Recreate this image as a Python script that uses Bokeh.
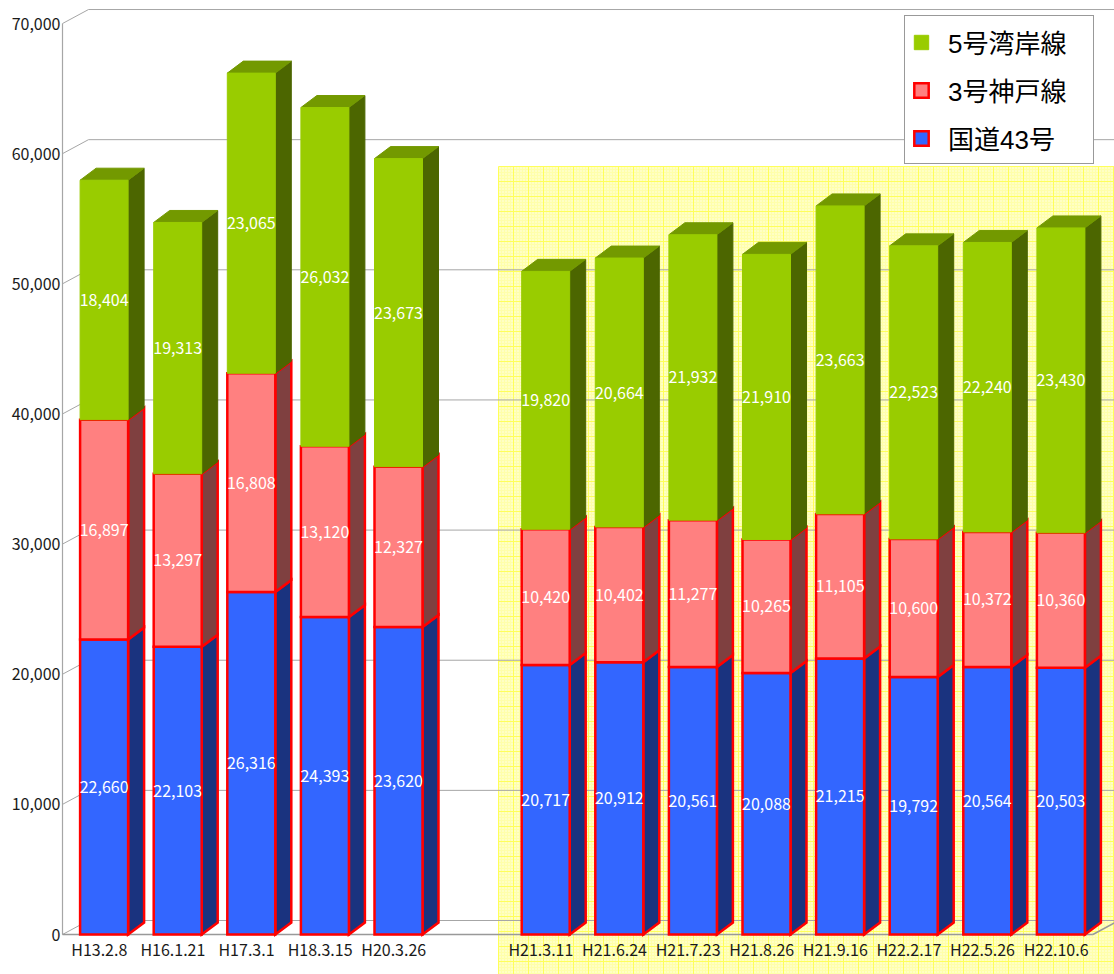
import numpy as np
from bokeh.plotting import figure
from bokeh.models import Range1d, FixedTicker, NumeralTickFormatter, Legend, LegendItem, ColumnDataSource
from bokeh.core.properties import value
from bokeh.embed import file_html
from bokeh.resources import INLINE

# ---------------- data ----------------
dates_a = ["H13.2.8", "H16.1.21", "H17.3.1", "H18.3.15", "H20.3.26"]
dates_b = ["H21.3.11", "H21.6.24", "H21.7.23", "H21.8.26", "H21.9.16", "H22.2.17", "H22.5.26", "H22.10.6"]
route43 = [22660, 22103, 26316, 24393, 23620, 20717, 20912, 20561, 20088, 21215, 19792, 20564, 20503]
kobe3 = [16897, 13297, 16808, 13120, 12327, 10420, 10402, 11277, 10265, 11105, 10600, 10372, 10360]
wangan5 = [18404, 19313, 23065, 26032, 23673, 19820, 20664, 21932, 21910, 23663, 22523, 22240, 23430]
series_names = ["国道43号", "3号神戸線", "5号湾岸線"]
y_ticks = [0, 10000, 20000, 30000, 40000, 50000, 60000, 70000]

# ---------------- layout / style ----------------
FONT = "Noto Sans CJK JP"
PX_X = 73.6          # px per category slot
PX_Y = 0.013014      # px per vehicle
W, H = 1114, 974
LEFT = 60
ZERO_Y = 934         # canvas y of the front floor
slots = list(range(len(dates_a))) + list(range(len(dates_a) + 1, len(dates_a) + 1 + len(dates_b)))
labels = dates_a + dates_b
n_slots = len(dates_a) + 1 + len(dates_b)

SLOT0_PX = 98.8
x0 = (LEFT - SLOT0_PX) / PX_X
x1 = x0 + (W - LEFT) / PX_X
y1 = ZERO_Y / PX_Y
y0 = y1 - H / PX_Y

BAR_OFF = 4.8 / PX_X
BAR_HALF = 24 / PX_X
DX, DY = 16 / PX_X, 12 / PX_Y          # bar depth
GDX, GDY = 26 / PX_X, 14 / PX_Y        # wall depth

p = figure(width=W, height=H, output_backend="svg", toolbar_location=None,
           x_range=Range1d(x0, x1), y_range=Range1d(y0, y1),
           x_axis_location=None, y_axis_location="left",
           min_border_left=LEFT, min_border_right=0, min_border_top=0, min_border_bottom=0,
           background_fill_color="white", border_fill_color="white", outline_line_color=None)
p.xgrid.visible = False
p.ygrid.visible = False

ax = p.yaxis[0]
ax.ticker = FixedTicker(ticks=y_ticks)
ax.formatter = NumeralTickFormatter(format="0,0")
ax.axis_line_color = None
ax.major_tick_line_color = None
ax.minor_tick_line_color = None
ax.major_tick_out = 0
ax.major_tick_in = 0
ax.major_label_standoff = 0
ax.major_label_text_font = FONT
ax.major_label_text_font_size = "16px"
ax.major_label_text_color = "#1a1a1a"

# ---------------- highlighted period (yellow graph paper) ----------------
hl_x = (498 - SLOT0_PX) / PX_X
hl_y = (ZERO_Y - 166) / PX_Y
p.quad(left=[hl_x], right=[x1 + 1], bottom=[y0 - 1000], top=[hl_y],
       fill_color="#FFFFC4", line_color=None)
step_x = 3 / PX_X
step_y = 3 / PX_Y
vx = hl_x + step_x * np.arange(0, int((x1 - hl_x) / step_x) + 2)
hy = hl_y - step_y * np.arange(0, int((hl_y - y0) / step_y) + 2)
minor_v = [v for i, v in enumerate(vx) if i % 5 != 0]
major_v = [v for i, v in enumerate(vx) if i % 5 == 0]
minor_h = [v for i, v in enumerate(hy) if i % 5 != 0]
major_h = [v for i, v in enumerate(hy) if i % 5 == 0]
p.segment(x0=minor_v, x1=minor_v, y0=[y0 - 1000] * len(minor_v), y1=[hl_y] * len(minor_v),
          line_color="#FFFFAA", line_width=1)
p.segment(x0=[hl_x] * len(minor_h), x1=[x1 + 1] * len(minor_h), y0=minor_h, y1=minor_h,
          line_color="#FFFFAA", line_width=1)
p.segment(x0=major_v, x1=major_v, y0=[y0 - 1000] * len(major_v), y1=[hl_y] * len(major_v),
          line_color="#FFFF5A", line_width=1)
p.segment(x0=[hl_x] * len(major_h), x1=[x1 + 1] * len(major_h), y0=major_h, y1=major_h,
          line_color="#FFFF5A", line_width=1)

# ---------------- 3D walls ----------------
front_x = -0.5
end_x = n_slots - 0.5
GRID = "#A6A6A6"
p.segment(x0=[front_x] * len(y_ticks), y0=y_ticks,
          x1=[front_x + GDX] * len(y_ticks), y1=[t + GDY for t in y_ticks],
          line_color=GRID, line_width=1)
p.segment(x0=[front_x + GDX] * len(y_ticks), y0=[t + GDY for t in y_ticks],
          x1=[x1 + 1] * len(y_ticks), y1=[t + GDY for t in y_ticks],
          line_color=GRID, line_width=1)
p.segment(x0=[front_x], y0=[0], x1=[front_x], y1=[y_ticks[-1]], line_color=GRID, line_width=1.2)
p.segment(x0=[front_x, end_x], y0=[0, 0], x1=[end_x, end_x + GDX], y1=[0, GDY],
          line_color="#999999", line_width=1.5)

# ---------------- stacked 3D bars ----------------
values = [route43, kobe3, wangan5]
front_fill = ["#3366FF", "#FF8080", "#99CC00"]
side_fill = ["#1A337F", "#7F4040", "#4C6600"]
outline = ["#FF0000", "#FF0000", "#99CC00"]
outline_w = [2.5, 2.5, 1]

xs = np.array(slots, dtype=float)
left = xs + BAR_OFF - BAR_HALF
right = xs + BAR_OFF + BAR_HALF
bottom = np.zeros(len(xs))
front_renderers = []
for k in range(3):
    v = np.array(values[k], dtype=float)
    top = bottom + v
    side_xs = [[r, r + DX, r + DX, r] for r in right]
    side_ys = [[b, b + DY, t + DY, t] for b, t in zip(bottom, top)]
    p.patches(xs=side_xs, ys=side_ys, fill_color=side_fill[k],
              line_color=outline[k] if k < 2 else side_fill[k], line_width=outline_w[k] if k < 2 else 1,
              line_join="miter")
    if k == 2:
        top_xs = [[l, l + DX, r + DX, r] for l, r in zip(left, right)]
        top_ys = [[t, t + DY, t + DY, t] for t in top]
        p.patches(xs=top_xs, ys=top_ys, fill_color="#739900", line_color="#739900", line_width=1)
    src = ColumnDataSource(dict(left=left, right=right, bottom=bottom, top=top))
    r = p.quad(left="left", right="right", bottom="bottom", top="top", source=src,
               fill_color=front_fill[k], line_color=outline[k], line_width=outline_w[k],
               line_join="miter")
    front_renderers.append(r)
    p.text(x=xs + BAR_OFF, y=(bottom + top) / 2, text=[f"{int(t):,}" for t in v],
           text_align="center", text_baseline="middle", text_color="white",
           text_font=value(FONT), text_font_size="16px")
    bottom = top

# ---------------- category labels ----------------
p.text(x=xs, y=[-14 / PX_Y] * len(xs), text=labels, text_align="center", text_baseline="middle",
       text_color="#1a1a1a", text_font=value(FONT), text_font_size="16px")

# ---------------- legend ----------------
legend = Legend(items=[LegendItem(label=series_names[2], renderers=[front_renderers[2]]),
                       LegendItem(label=series_names[1], renderers=[front_renderers[1]]),
                       LegendItem(label=series_names[0], renderers=[front_renderers[0]])],
                location=(844, 810), orientation="vertical",
                border_line_color="#333333", border_line_width=1,
                background_fill_color="white", background_fill_alpha=1,
                label_text_font="Liberation Sans, Noto Sans CJK JP", label_text_font_size="26px",
                label_text_color="#000000",
                glyph_width=18, glyph_height=18, label_height=30, label_width=138,
                spacing=11, padding=7, label_standoff=18, margin=0)
p.add_layout(legend)

open("out.html", "w").write(file_html(p, INLINE))
